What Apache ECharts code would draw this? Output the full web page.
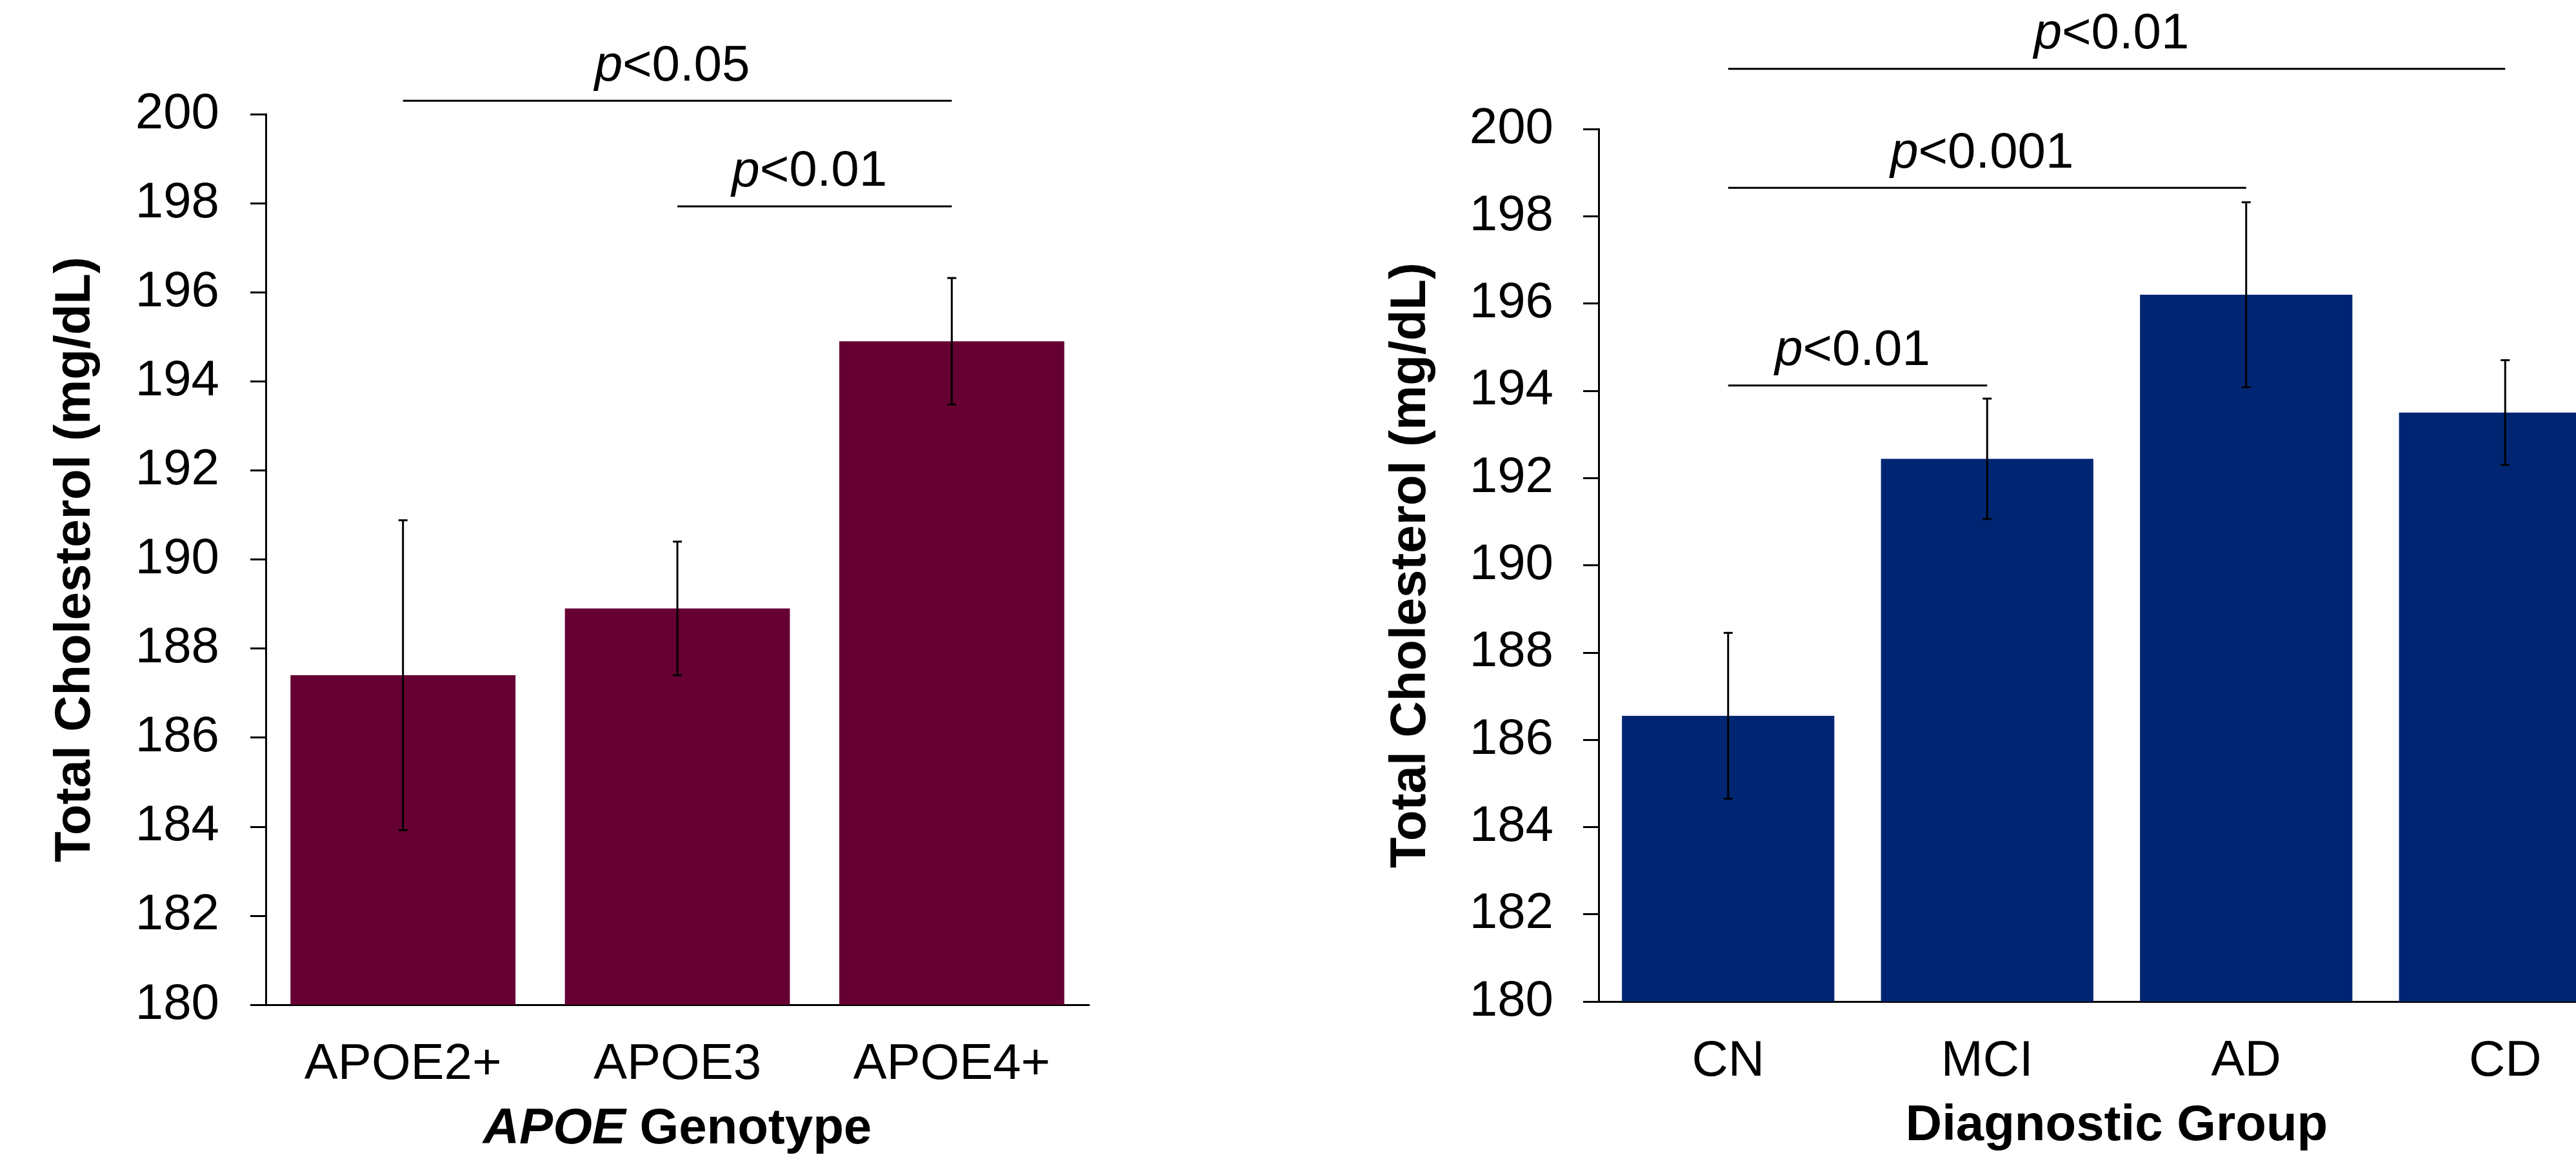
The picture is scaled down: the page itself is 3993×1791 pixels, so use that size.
<!DOCTYPE html>
<html><head><meta charset="utf-8">
<script src="https://cdn.jsdelivr.net/npm/echarts@6/dist/echarts.min.js"></script>
<style>html,body{margin:0;padding:0;background:#fff}#c{width:3993px;height:1791px}</style>
</head><body><div id="c"></div>
<script>
// ---- data ----
const apoeCategories = ['APOE2+', 'APOE3', 'APOE4+'];
const apoeMeans = [187.4, 188.9, 194.9];
const apoeErrors = [3.48, 1.5, 1.42];

const diagCategories = ['CN', 'MCI', 'AD', 'CD'];
const diagMeans = [186.55, 192.44, 196.2, 193.5];
const diagErrors = [1.9, 1.38, 2.12, 1.2];

const yMin = 180, yMax = 200, yStep = 2;

// significance brackets: from category index, to category index, level (mg/dL), p threshold
const apoeSigFrom = [0, 1];
const apoeSigTo = [2, 2];
const apoeSigLevel = [200.3, 197.93];
const apoeSigP = ['0.05', '0.01'];

const diagSigFrom = [0, 0, 0];
const diagSigTo = [3, 2, 1];
const diagSigLevel = [201.38, 198.65, 194.12];
const diagSigP = ['0.01', '0.001', '0.01'];

// ---- styling ----
const FONT = 'Liberation Sans, Arial, Helvetica, sans-serif';
const FS = 78;
const black = '#000000';

function errItem(params, api) {
  const x = api.value(0);
  const lo = api.coord([x, api.value(1)]);
  const hi = api.coord([x, api.value(2)]);
  const hw = 7;
  const st = { stroke: black, lineWidth: 3 };
  return { type: 'group', children: [
    { type: 'line', shape: { x1: lo[0], y1: lo[1], x2: hi[0], y2: hi[1] }, style: st },
    { type: 'line', shape: { x1: lo[0] - hw, y1: lo[1], x2: lo[0] + hw, y2: lo[1] }, style: st },
    { type: 'line', shape: { x1: hi[0] - hw, y1: hi[1], x2: hi[0] + hw, y2: hi[1] }, style: st }
  ]};
}

function sigRenderer(pList) {
  return function (params, api) {
    const a = api.coord([api.value(0), api.value(2)]);
    const b = api.coord([api.value(1), api.value(2)]);
    const cx = (a[0] + b[0]) / 2 - 8;
    return { type: 'group', children: [
      { type: 'line', shape: { x1: a[0], y1: a[1], x2: b[0], y2: b[1] }, style: { stroke: black, lineWidth: 3 } },
      { type: 'text', style: {
          x: cx, y: a[1] - 53,
          text: '{i|p}{n|<' + pList[params.dataIndex] + '}',
          align: 'center', verticalAlign: 'middle',
          fontSize: FS, fontFamily: FONT, fill: black,
          rich: {
            i: { fontSize: FS, fontFamily: FONT, fontStyle: 'italic', color: black },
            n: { fontSize: FS, fontFamily: FONT, color: black }
          }
      } }
    ]};
  };
}

function xAxisCfg(idx, cats, nameRich) {
  return {
    type: 'category', gridIndex: idx, data: cats,
    axisTick: { show: false },
    axisLine: { show: true, lineStyle: { color: black, width: 3 } },
    axisLabel: { interval: 0, fontSize: FS, fontFamily: FONT, color: black, margin: 54 },
    splitLine: { show: false },
    name: nameRich.text, nameLocation: 'middle', nameGap: 154,
    nameTextStyle: { fontSize: FS, fontFamily: FONT, fontWeight: 'bold', color: black, rich: nameRich.rich }
  };
}

function yAxisCfg(idx, gap, labelMargin) {
  return {
    type: 'value', gridIndex: idx, min: yMin, max: yMax, interval: yStep,
    axisLine: { show: true, lineStyle: { color: black, width: 3 } },
    axisTick: { show: true, inside: false, length: 24, lineStyle: { color: black, width: 3 } },
    axisLabel: { fontSize: FS, fontFamily: FONT, color: black, margin: labelMargin },
    splitLine: { show: false },
    name: 'Total Cholesterol (mg/dL)', nameLocation: 'middle', nameGap: gap,
    nameTextStyle: { fontSize: FS, fontFamily: FONT, fontWeight: 'bold', color: black }
  };
}

const chart = echarts.init(document.getElementById('c'), null, { renderer: 'canvas' });
chart.setOption({
  backgroundColor: '#ffffff',
  animation: false,
  grid: [
    { left: 412, top: 177, width: 1276, height: 1381, outerBoundsMode: 'none', containLabel: false },
    { left: 2478, top: 200, width: 1606, height: 1353, outerBoundsMode: 'none', containLabel: false }
  ],
  xAxis: [
    xAxisCfg(0, apoeCategories, {
      text: '{i|APOE} {b|Genotype}',
      rich: {
        i: { fontSize: FS, fontFamily: FONT, fontWeight: 'bold', fontStyle: 'italic', color: black },
        b: { fontSize: FS, fontFamily: FONT, fontWeight: 'bold', color: black }
      }
    }),
    xAxisCfg(1, diagCategories, {
      text: '{b|Diagnostic Group}',
      rich: { b: { fontSize: FS, fontFamily: FONT, fontWeight: 'bold', color: black } }
    })
  ],
  yAxis: [yAxisCfg(0, 256, 72), yAxisCfg(1, 252, 70)],
  series: [
    { type: 'bar', xAxisIndex: 0, yAxisIndex: 0, data: apoeMeans, barWidth: '82%',
      itemStyle: { color: '#660033' }, z: 1 },
    { type: 'bar', xAxisIndex: 1, yAxisIndex: 1, data: diagMeans, barWidth: '82%',
      itemStyle: { color: '#002673' }, z: 1 },
    { type: 'custom', xAxisIndex: 0, yAxisIndex: 0, renderItem: errItem, clip: false, z: 5,
      encode: { x: 0, y: [1, 2] },
      data: apoeMeans.map((m, i) => [i, m - apoeErrors[i], m + apoeErrors[i]]) },
    { type: 'custom', xAxisIndex: 1, yAxisIndex: 1, renderItem: errItem, clip: false, z: 5,
      encode: { x: 0, y: [1, 2] },
      data: diagMeans.map((m, i) => [i, m - diagErrors[i], m + diagErrors[i]]) },
    { type: 'custom', xAxisIndex: 0, yAxisIndex: 0, renderItem: sigRenderer(apoeSigP), clip: false, z: 5,
      encode: { x: [0, 1], y: 2 },
      data: apoeSigFrom.map((f, i) => [f, apoeSigTo[i], apoeSigLevel[i]]) },
    { type: 'custom', xAxisIndex: 1, yAxisIndex: 1, renderItem: sigRenderer(diagSigP), clip: false, z: 5,
      encode: { x: [0, 1], y: 2 },
      data: diagSigFrom.map((f, i) => [f, diagSigTo[i], diagSigLevel[i]]) }
  ]
});
</script>
</body></html>
